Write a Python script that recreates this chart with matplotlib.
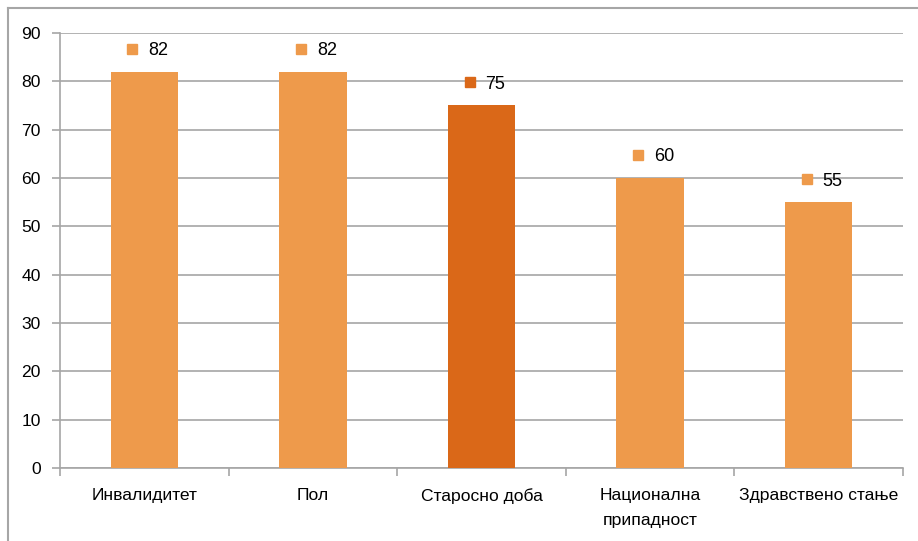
import numpy as np
import matplotlib.pyplot as plt
from matplotlib.transforms import offset_copy
from matplotlib.lines import Line2D

plt.rcParams['font.family'] = ['Liberation Sans', 'DejaVu Sans']

kategorije = ["Инвалидитет", "Пол", "Старосно доба", "Национална\nприпадност", "Здравствено стање"]
vrednosti = [82, 82, 75, 60, 55]
boje = ["#EE9A4B", "#EE9A4B", "#DA6818", "#EE9A4B", "#EE9A4B"]
y_podeoci = list(range(0, 91, 10))

siva = "#A6A6A6"
fs = 12.6

fig = plt.figure(figsize=(9.18, 5.41), dpi=100)
ax = fig.add_axes([60/918, 1-468/541, (903-60)/918, (468-33)/541])

x = np.arange(len(kategorije))
ax.bar(x, vrednosti, width=0.40, color=boje, zorder=3)

ax.set_xlim(-0.5, len(kategorije)-0.5)
ax.set_ylim(0, 90)
ax.set_yticks(y_podeoci)
ax.set_xticks(x)
ax.set_xticklabels(kategorije, fontsize=fs, linespacing=1.85)
ax.set_xticks(np.arange(-0.5, len(kategorije)), minor=True)
ax.tick_params(axis='x', which='major', length=0, pad=14.5)
ax.tick_params(axis='x', which='minor', length=6, color=siva, width=1.2)
ax.tick_params(axis='y', length=6, color=siva, width=1.2, labelsize=fs, pad=8)
ax.grid(axis='y', color=siva, linewidth=1.2, zorder=0)

for s in ['top', 'right']:
    ax.spines[s].set_visible(False)
for s in ['left', 'bottom']:
    ax.spines[s].set_color(siva)
    ax.spines[s].set_linewidth(1.2)

for i, v in enumerate(vrednosti):
    tr_kv = offset_copy(ax.transData, fig=fig, x=-12, y=23, units='dots')
    ax.plot(i, v, marker='s', markersize=7.5, color=boje[i], transform=tr_kv, zorder=4, clip_on=False)
    tr_t = offset_copy(ax.transData, fig=fig, x=4, y=21, units='dots')
    ax.text(i, v, str(v), transform=tr_t, ha='left', va='center', fontsize=13, zorder=4)

# okvir oko grafikona (gore i levo)
fig.add_artist(Line2D([8/918, 1], [1-8/541, 1-8/541], color=siva, linewidth=1.5, transform=fig.transFigure))
fig.add_artist(Line2D([8/918, 8/918], [0, 1-8/541], color=siva, linewidth=1.5, transform=fig.transFigure))

fig.savefig("out.png", dpi=100)
